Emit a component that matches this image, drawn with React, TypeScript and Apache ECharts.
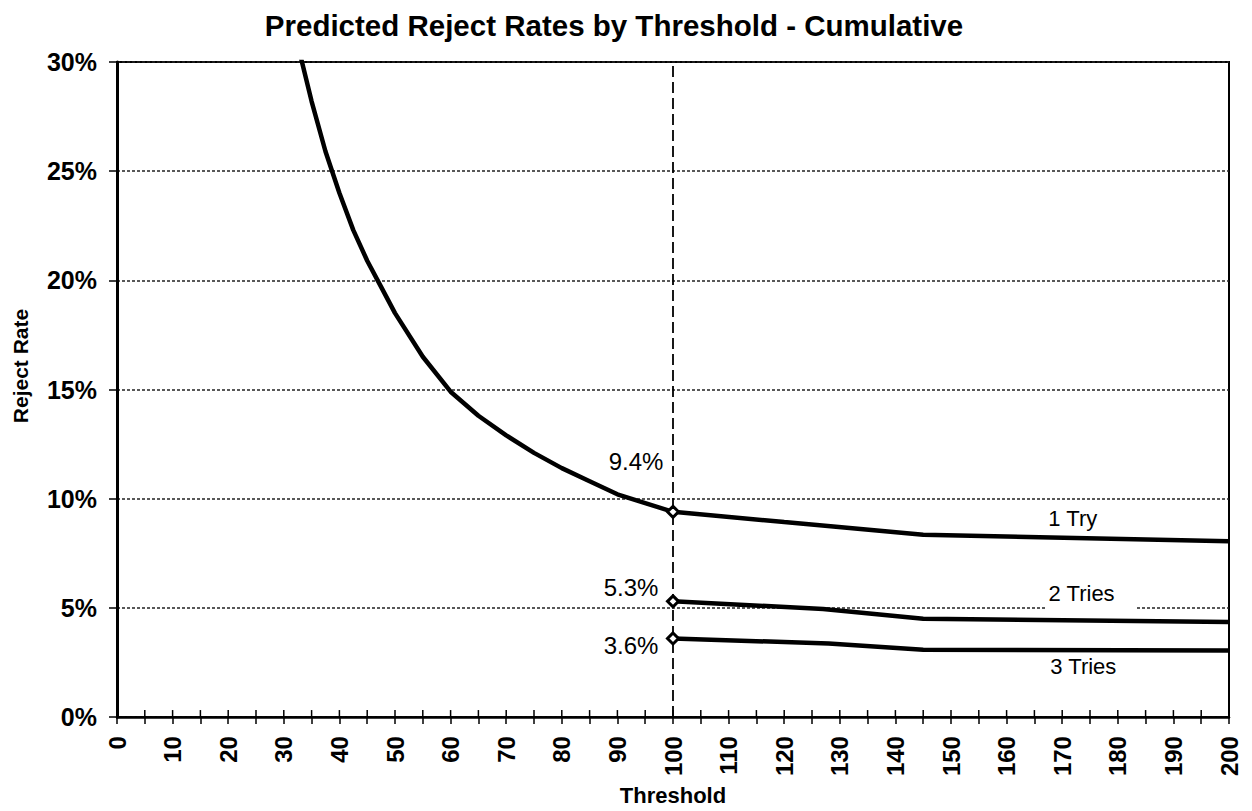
import React, { useEffect, useRef } from "react";
import * as echarts from "echarts";

const FONT = '"Liberation Sans", Arial, Helvetica, sans-serif';

// Cumulative predicted reject rate (%) by threshold
const oneTryThreshold = [32.5, 35, 37.5, 40, 42.5, 45, 47.5, 50, 55, 60, 65, 70, 75, 80, 85, 90, 95, 100, 120, 145, 200];
const oneTryRate = [30.8, 28.2, 25.9, 24.0, 22.3, 20.9, 19.7, 18.5, 16.5, 14.9, 13.8, 12.9, 12.1, 11.4, 10.8, 10.2, 9.8, 9.4, 8.93, 8.35, 8.05];

const twoTriesThreshold = [100, 127, 145, 200];
const twoTriesRate = [5.3, 4.95, 4.5, 4.35];

const threeTriesThreshold = [100, 128, 145, 200];
const threeTriesRate = [3.6, 3.37, 3.08, 3.05];

// Threshold marked by the dashed reference line
const selectedThreshold = 100;

// Axis ranges
const xMin = 0;
const xMax = 200;
const xStep = 5;
const yMin = 0;
const yMax = 30;
const yStep = 5;

const curveNames = ["1 Try", "2 Tries", "3 Tries"];

const zip = (xs: number[], ys: number[]) => xs.map((x, i) => [x, ys[i]]);

const rateAt = (xs: number[], ys: number[], x: number) => ys[xs.indexOf(x)];

// Threshold tick positions along the x axis
const xTickValues: number[] = [];
for (let t = xMin; t <= xMax; t += xStep) xTickValues.push(t);

const TICK_LEN = 7;

export default function App() {
  const ref = useRef<HTMLDivElement>(null);

  useEffect(() => {
    if (!ref.current) return;
    const chart = echarts.init(ref.current, undefined, { renderer: "svg" });

    const lineStyle = { color: "#000", width: 4.5 };

    const callouts = [
      { value: [selectedThreshold, rateAt(oneTryThreshold, oneTryRate, selectedThreshold)], offset: [-37, -50] },
      { value: [selectedThreshold, rateAt(twoTriesThreshold, twoTriesRate, selectedThreshold)], offset: [-42, -14] },
      { value: [selectedThreshold, rateAt(threeTriesThreshold, threeTriesRate, selectedThreshold)], offset: [-42, 7] },
    ];

    const curveLabels = [
      { name: curveNames[0], value: [171.9, 9.1], padding: [0, 0, 0, 0], bg: "transparent" },
      { name: curveNames[1], value: [175.2, 5.68], padding: [4, 22, 14, 3], bg: "#fff" },
      { name: curveNames[2], value: [173.8, 2.3], padding: [0, 0, 0, 0], bg: "transparent" },
    ];

    chart.setOption({
      animation: false,
      backgroundColor: "#fff",
      title: {
        text: "Predicted Reject Rates by Threshold - Cumulative",
        left: 609,
        textAlign: "center",
        top: 5,
        textStyle: { fontFamily: FONT, fontWeight: "bold", fontSize: 29.5, color: "#000" },
      },
      grid: {
        left: 117,
        right: 23,
        top: 62,
        bottom: 93,
        show: true,
        borderColor: "#000",
        borderWidth: 2,
      },
      xAxis: {
        type: "value",
        min: xMin,
        max: xMax,
        interval: xStep,
        name: "Threshold",
        nameLocation: "middle",
        nameGap: 65,
        nameTextStyle: { fontFamily: FONT, fontWeight: "bold", fontSize: 22, color: "#000" },
        axisLine: { show: true, onZero: false, lineStyle: { color: "#000", width: 2.5 } },
        axisTick: { show: true, length: TICK_LEN, lineStyle: { color: "#000", width: 1.5 } },
        axisLabel: {
          rotate: 90,
          margin: 19,
          fontFamily: FONT,
          fontWeight: "bold",
          fontSize: 24,
          color: "#000",
          formatter: (v: number) => (v % 10 === 0 ? String(v) : ""),
        },
        splitLine: { show: false },
      },
      yAxis: {
        type: "value",
        min: yMin,
        max: yMax,
        interval: yStep,
        axisLine: { show: true, lineStyle: { color: "#000", width: 3 } },
        axisTick: { show: true, length: 8, lineStyle: { color: "#000", width: 1.5 } },
        axisLabel: {
          margin: 20,
          fontFamily: FONT,
          fontWeight: "bold",
          fontSize: 25,
          color: "#000",
          formatter: (v: number) => `${v}%`,
        },
        splitLine: { show: true, lineStyle: { color: "#222", width: 1.5, type: [3, 2] } },
      },
      graphic: [
        {
          type: "text",
          x: 20,
          y: 366,
          rotation: Math.PI / 2,
          style: {
            text: "Reject Rate",
            font: `bold 21px ${FONT}`,
            fill: "#000",
            align: "center",
            verticalAlign: "middle",
          },
        },
      ],
      series: [
        {
          // upper halves of the threshold ticks, so that they cross the axis line
          name: "tick tops",
          type: "custom",
          silent: true,
          clip: false,
          z: 6,
          data: xTickValues.map((t) => [t, yMin]),
          renderItem: (_params: any, api: any) => {
            const p = api.coord([api.value(0), api.value(1)]);
            return {
              type: "line",
              shape: { x1: p[0], y1: p[1], x2: p[0], y2: p[1] - TICK_LEN },
              style: { stroke: "#000", lineWidth: 1.5 },
            };
          },
        },
        {
          name: curveNames[0],
          type: "line",
          data: zip(oneTryThreshold, oneTryRate),
          showSymbol: false,
          symbol: "none",
          lineStyle,
          clip: true,
          z: 3,
        },
        {
          name: curveNames[1],
          type: "line",
          data: zip(twoTriesThreshold, twoTriesRate),
          showSymbol: false,
          symbol: "none",
          lineStyle,
          z: 3,
        },
        {
          name: curveNames[2],
          type: "line",
          data: zip(threeTriesThreshold, threeTriesRate),
          showSymbol: false,
          symbol: "none",
          lineStyle,
          z: 3,
        },
        {
          name: "callouts",
          type: "scatter",
          z: 5,
          symbol: "diamond",
          symbolSize: 11,
          itemStyle: { color: "#fff", borderColor: "#000", borderWidth: 3, opacity: 1 },
          data: callouts.map((c) => ({
            value: c.value,
            label: {
              show: true,
              position: "inside",
              offset: c.offset,
              formatter: (p: any) => `${p.value[1].toFixed(1)}%`,
              fontFamily: FONT,
              fontSize: 24,
              color: "#000",
              opacity: 1,
            },
          })),
          markLine: {
            silent: true,
            symbol: ["none", "none"],
            label: { show: false },
            lineStyle: { color: "#000", width: 1.8, type: [11, 5], opacity: 1 },
            data: [{ xAxis: selectedThreshold }],
            z: 2,
          },
        },
        {
          name: "curve labels",
          type: "scatter",
          z: 4,
          symbolSize: 1,
          itemStyle: { color: "transparent", opacity: 1 },
          data: curveLabels.map((c) => ({
            name: c.name,
            value: c.value,
            label: {
              show: true,
              position: "inside",
              formatter: c.name,
              fontFamily: FONT,
              fontSize: 22,
              color: "#000",
              opacity: 1,
              backgroundColor: c.bg,
              padding: c.padding,
            },
          })),
        },
      ],
    });

    return () => chart.dispose();
  }, []);

  return (
    <div
      ref={ref}
      style={{ position: "absolute", left: 0, top: 0, width: 1252, height: 811, background: "#fff" }}
    />
  );
}
